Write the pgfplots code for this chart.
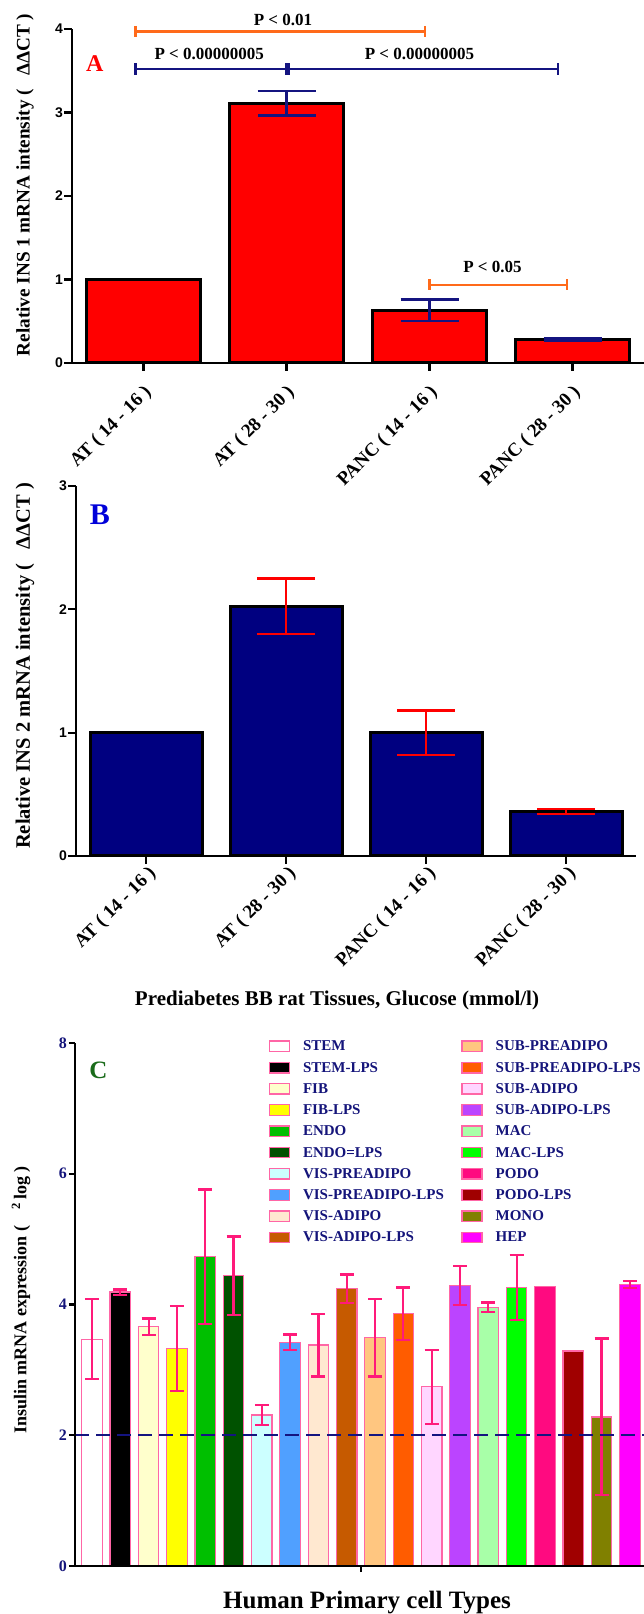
\documentclass[border=0pt]{standalone}
\usepackage{pgfplots}
\pgfplotsset{compat=1.18}
\usepackage{fontspec}
\setmainfont{Liberation Serif}
\newfontfamily\arial{Liberation Sans}
\newcommand\fs[1]{\fontsize{#1}{#1}\selectfont}
\definecolor{navyA}{HTML}{141480}
\definecolor{orangeA}{HTML}{FF6A1A}
\definecolor{barB}{HTML}{000080}
\definecolor{pinkB}{HTML}{FF66A6}
\definecolor{errP}{HTML}{FF1A7A}
\definecolor{navyT}{HTML}{14147A}
\definecolor{greenC}{HTML}{1A6B1A}
\definecolor{cFIB}{HTML}{FFFFCC}
\definecolor{cFIBL}{HTML}{FFFF00}
\definecolor{cENDO}{HTML}{00BF00}
\definecolor{cENDOL}{HTML}{005200}
\definecolor{cVISP}{HTML}{CCFFFF}
\definecolor{cVISPL}{HTML}{50A0FF}
\definecolor{cVISA}{HTML}{FFE8D0}
\definecolor{cVISAL}{HTML}{C65A00}
\definecolor{cSUBP}{HTML}{FFC680}
\definecolor{cSUBPL}{HTML}{FF5C00}
\definecolor{cSUBA}{HTML}{FFD6FF}
\definecolor{cSUBAL}{HTML}{BB44FF}
\definecolor{cMAC}{HTML}{A8FFA8}
\definecolor{cMACL}{HTML}{00FF00}
\definecolor{cPODO}{HTML}{FF0A80}
\definecolor{cPODOL}{HTML}{A00000}
\definecolor{cMONO}{HTML}{808000}
\definecolor{cHEP}{HTML}{FF00FF}
\pgfplotsset{
  cbar/.style={ybar, fill=#1, draw=pinkB, line width=1.2pt, bar shift=0pt,
    legend image code/.code={\draw[##1, line width=1.3pt] (0pt,-5pt) rectangle (20pt,5.5pt); \path (31pt,0pt);}},
  cerr/.style={error bars/.cd, y dir=both, y explicit,
    error bar style={errP, line width=2.2pt},
    error mark options={rotate=90, mark size=7pt, errP, line width=2.2pt}},
  catlabels/.style 2 args={xtick={0,1,2,3},
    xticklabels={AT ( 14 - 16 ), AT ( 28 - 30 ), PANC ( 14 - 16 ), PANC ( 28 - 30 )},
    xticklabel style={font=\bfseries\fs{19}, xshift=#1, yshift=#2, rotate=45, anchor=north east, inner sep=1pt}},
  panelAB/.style={scale only axis, enlargelimits=false, xmin=-0.5, xmax=3.5, ymin=0,
    axis x line=bottom, axis y line=left, axis line style={-, line width=2.6pt, black},
    axis on top, clip=false, tick align=outside, major tick length=8pt,
    tick style={line width=2.2pt, black},
    /pgf/number format/assume math mode=true,
    yticklabel style={font=\arial\bfseries\fs{14}, inner sep=1pt}},
}
\begin{document}
\begin{tikzpicture}[x=1pt,y=1pt]
\path[use as bounding box] (0pt,0pt) rectangle (644pt,1614pt);
% ---------------- Panel A
\begin{axis}[panelAB, catlabels={-1pt}{-11pt}, at={(72pt,1251pt)}, anchor=south west, width=572pt, height=334pt,
  ymax=4, ytick={0,1,2,3,4}, ybar, bar width=114pt]
\addplot[ybar, bar shift=0pt, fill=red, draw=black, line width=3pt] coordinates {(0,1)};
\addplot[ybar, bar shift=0pt, fill=red, draw=black, line width=3pt,
  error bars/.cd, y dir=both, y explicit,
  error bar style={line width=2.6pt, navyA},
  error mark options={rotate=90, mark size=29pt, line width=2.6pt, navyA}]
  coordinates {(1,3.11) +- (0,0.145) (2,0.63) +- (0,0.127) (3,0.278) +- (0,0.012)};
\addplot[sharp plot, orangeA, line width=2.5pt, mark=|, mark size=5.5pt, mark options={solid, line width=2.5pt}]
  coordinates {(-0.056,3.97) (1.97,3.97)};
\addplot[sharp plot, navyA, line width=2.5pt, mark=|, mark size=6pt, mark options={solid, line width=2.5pt}]
  coordinates {(-0.056,3.52) (0.997,3.52)};
\addplot[sharp plot, navyA, line width=2.5pt, mark=|, mark size=6pt, mark options={solid, line width=2.5pt}]
  coordinates {(1.015,3.52) (2.90,3.52)};
\addplot[sharp plot, orangeA, line width=2.5pt, mark=|, mark size=5.5pt, mark options={solid, line width=2.5pt}]
  coordinates {(2.0,0.934) (2.96,0.934)};
\node[font=\bfseries\fs{17}] at (axis cs:0.975,4.11) {P < 0.01};
\node[font=\bfseries\fs{17}] at (axis cs:0.46,3.70) {P < 0.00000005};
\node[font=\bfseries\fs{17}] at (axis cs:1.93,3.70) {P < 0.00000005};
\node[font=\bfseries\fs{17}] at (axis cs:2.44,1.15) {P < 0.05};
\node[font=\bfseries\fs{24}, red] at (axis cs:-0.34,3.59) {A};
\end{axis}
\node[rotate=90, font=\bfseries\fs{19.2}] at (25pt,1429pt) {Relative INS 1 mRNA intensity (\hspace{0.7em}ΔΔCT )};
% ---------------- Panel B
\begin{axis}[panelAB, catlabels={1pt}{1pt}, at={(76pt,758pt)}, anchor=south west, width=560pt, height=370pt,
  ymax=3, ytick={0,1,2,3}, ybar, bar width=112pt]
\addplot[ybar, bar shift=0pt, fill=barB, draw=black, line width=3pt] coordinates {(0,1)};
\addplot[ybar, bar shift=0pt, fill=barB, draw=black, line width=3pt,
  error bars/.cd, y dir=both, y explicit,
  error bar style={line width=2.6pt, red},
  error mark options={rotate=90, mark size=29pt, line width=2.6pt, red}]
  coordinates {(1,2.025) +- (0,0.225) (2,1.0) +- (0,0.18) (3,0.36) +- (0,0.02)};
\node[font=\bfseries\fs{30}, blue!85!black] at (axis cs:-0.33,2.77) {B};
\end{axis}
\node[rotate=90, font=\bfseries\fs{20.5}] at (25pt,948pt) {Relative INS 2 mRNA intensity (\hspace{0.7em}ΔΔCT )};
\node[font=\bfseries\fs{21}] at (337pt,614pt) {Prediabetes BB rat Tissues, Glucose (mmol/l)};
% ---------------- Panel C
\begin{axis}[scale only axis, enlargelimits=false, at={(75pt,48pt)}, anchor=south west,
  width=569pt, height=523pt, xmin=-0.6, xmax=19.5, ymin=0, ymax=8,
  axis x line=bottom, axis y line=left, axis line style={-, line width=2.6pt, black},
  axis on top, clip=false, tick align=outside, major tick length=6pt,
  tick style={line width=2.2pt, black},
  ytick={0,2,4,6,8}, xtick={9.5}, xticklabels={},
  /pgf/number format/assume math mode=true,
  yticklabel style={font=\bfseries\fs{16}, text=navyT, inner sep=2pt},
  ybar, bar width=20.5pt,
  legend columns=2,
  legend style={at={(axis description cs:0.335,1.012)}, anchor=north west, draw=none, fill=none,
    font=\bfseries\fs{15}, text=navyT, row sep=5.8pt,
    cells={anchor=west},
    /tikz/every even column/.append style={column sep=15.5pt}},
]
% plotted in legend order: left column and right column alternate
\addplot[cbar=white, cerr] coordinates {(0,3.47) +- (0,0.61)}; \addlegendentry{STEM}
\addplot[cbar=cSUBP, cerr] coordinates {(10,3.49) +- (0,0.59)}; \addlegendentry{SUB-PREADIPO}
\addplot[cbar=black, cerr] coordinates {(1,4.19) +- (0,0.04)}; \addlegendentry{STEM-LPS}
\addplot[cbar=cSUBPL, cerr] coordinates {(11,3.86) +- (0,0.4)}; \addlegendentry{SUB-PREADIPO-LPS}
\addplot[cbar=cFIB, cerr] coordinates {(2,3.66) +- (0,0.125)}; \addlegendentry{FIB}
\addplot[cbar=cSUBA, cerr] coordinates {(12,2.74) +- (0,0.57)}; \addlegendentry{SUB-ADIPO}
\addplot[cbar=cFIBL, cerr] coordinates {(3,3.33) +- (0,0.65)}; \addlegendentry{FIB-LPS}
\addplot[cbar=cSUBAL, cerr] coordinates {(13,4.29) +- (0,0.3)}; \addlegendentry{SUB-ADIPO-LPS}
\addplot[cbar=cENDO, cerr] coordinates {(4,4.73) +- (0,1.03)}; \addlegendentry{ENDO}
\addplot[cbar=cMAC, cerr] coordinates {(14,3.96) +- (0,0.07)}; \addlegendentry{MAC}
\addplot[cbar=cENDOL, cerr] coordinates {(5,4.44) +- (0,0.6)}; \addlegendentry{ENDO=LPS}
\addplot[cbar=cMACL, cerr] coordinates {(15,4.26) +- (0,0.5)}; \addlegendentry{MAC-LPS}
\addplot[cbar=cVISP, cerr] coordinates {(6,2.31) +- (0,0.15)}; \addlegendentry{VIS-PREADIPO}
\addplot[cbar=cPODO] coordinates {(16,4.28)}; \addlegendentry{PODO}
\addplot[cbar=cVISPL, cerr] coordinates {(7,3.42) +- (0,0.12)}; \addlegendentry{VIS-PREADIPO-LPS}
\addplot[cbar=cPODOL] coordinates {(17,3.29)}; \addlegendentry{PODO-LPS}
\addplot[cbar=cVISA, cerr] coordinates {(8,3.38) +- (0,0.48)}; \addlegendentry{VIS-ADIPO}
\addplot[cbar=cMONO, cerr] coordinates {(18,2.28) +- (0,1.2)}; \addlegendentry{MONO}
\addplot[cbar=cVISAL, cerr] coordinates {(9,4.24) +- (0,0.22)}; \addlegendentry{VIS-ADIPO-LPS}
\addplot[cbar=cHEP, cerr] coordinates {(19,4.31) +- (0,0.055)}; \addlegendentry{HEP}
\addplot[sharp plot, forget plot, navyA, line width=2.5pt, dash pattern=on 14pt off 7pt]
  coordinates {(-0.6,2) (19.5,2)};
\node[font=\bfseries\fs{25}, greenC] at (axis cs:0.23,7.58) {C};
\end{axis}
\node[rotate=90, font=\bfseries\fs{18}] at (21pt,314pt) {Insulin mRNA expression (\hspace{0.9em}\textsuperscript{2}\,log )};
\node[font=\bfseries\fs{25}] at (367pt,11pt) {Human Primary cell Types};
\end{tikzpicture}
\end{document}
